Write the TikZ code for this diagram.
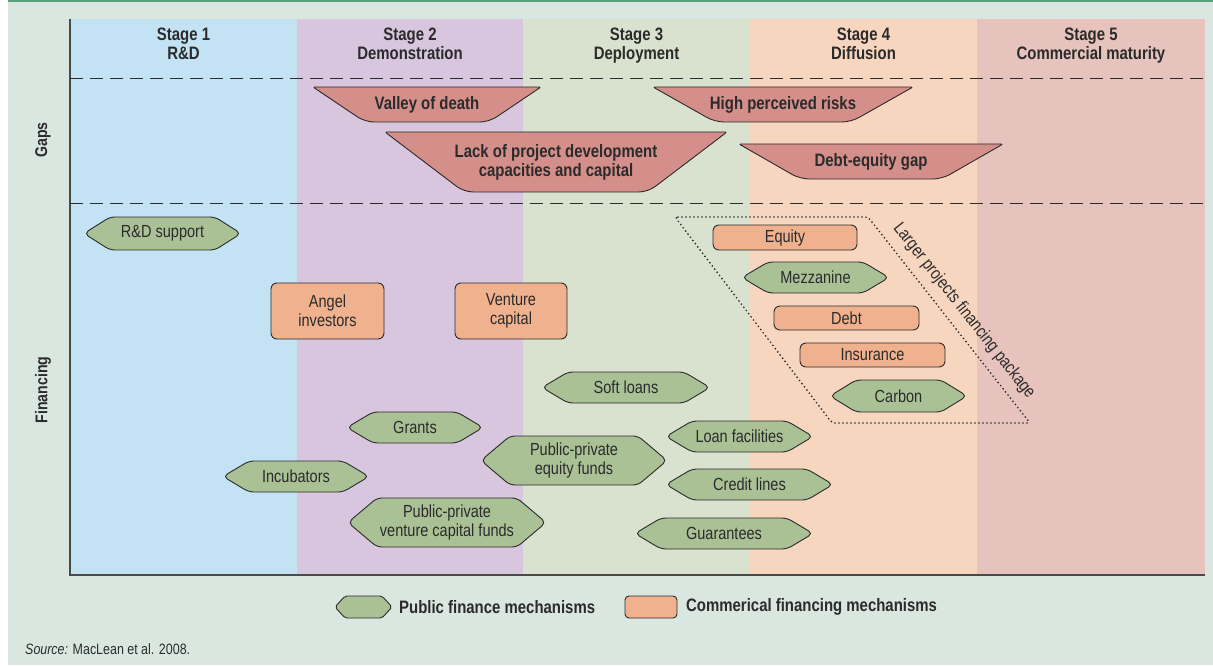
\documentclass[tikz,border=0pt]{standalone}
\usepackage{fontspec}
\setmainfont{Liberation Sans}[FakeStretch=0.83]

\definecolor{pagebg}{HTML}{D9E7E0}
\definecolor{rulegreen}{HTML}{5A9E7C}
\definecolor{colrd}{HTML}{C3E2F3}
\definecolor{coldemo}{HTML}{D8C6DF}
\definecolor{coldeploy}{HTML}{D9E2CF}
\definecolor{coldiff}{HTML}{F7D6BF}
\definecolor{colmature}{HTML}{E6C3BD}
\definecolor{gapred}{HTML}{D48F8B}
\definecolor{pubgreen}{HTML}{AAC196}
\definecolor{commorange}{HTML}{F0B18E}
\definecolor{inkgray}{HTML}{2B2B2B}
\definecolor{axisgray}{HTML}{4A4A4A}

\tikzset{
  lbl/.style={font=\fontsize{17.5}{19}\selectfont, text=inkgray, align=center, inner sep=0pt},
  headlbl/.style={font=\bfseries\fontsize{18}{19}\selectfont, text=inkgray, align=center, inner sep=0pt},
  stagelbl/.style={headlbl, anchor=north},
  hexline/.style={draw=inkgray, fill=pubgreen, line width=0.9pt, rounded corners=5pt, line join=round},
  gapline/.style={draw=inkgray, fill=gapred, line width=0.9pt, line join=round},
  commbox/.style={lbl, draw=inkgray, fill=commorange, line width=0.9pt, rounded corners=6pt},
  stageline/.style={draw=inkgray, line width=0.9pt, dash pattern=on 13pt off 7pt},
  pkgline/.style={draw=inkgray, line width=1.9pt, line cap=round, dash pattern=on 0pt off 4pt, rounded corners=3pt}
}

% public mechanism: [cut] name, centre, half width, half height, text
\newcommand{\pubhex}[6][26]{%
  \begin{scope}[shift={(#3)}]
    \draw[hexline] (-#4,0) -- (-#4+#1,-#5) -- (#4-#1,-#5) -- (#4,0) -- (#4-#1,#5) -- (-#4+#1,#5) -- cycle;
    \node[lbl] (#2) at (0,0) {#6};
  \end{scope}}

% gap: name, centre x, top y, bottom y, top half width, bottom half width, text
\newcommand{\gapbox}[7]{%
  \draw[gapline] (#2-#5,#3) [rounded corners=2pt] -- (#2+#5,#3) [rounded corners=9pt] -- (#2+#6,#4) -- (#2-#6,#4) [rounded corners=2pt] -- cycle;
  \node[headlbl] (#1) at (#2,{(#3+#4)/2}) {#7};}

\begin{document}
\begin{tikzpicture}[x=1pt, y=-1pt]
    \useasboundingbox (0,0) rectangle (1213,666);
    % background and top rule
    \fill[pagebg] (8,0) rectangle (1213,665);
    \draw[rulegreen, line width=2pt] (8,1) -- (1213,1);

    % stage columns
    \fill[colrd] (70,19) rectangle (297,575);
    \fill[coldemo] (297,19) rectangle (523,575);
    \fill[coldeploy] (523,19) rectangle (750,575);
    \fill[coldiff] (750,19) rectangle (977,575);
    \fill[colmature] (977,19) rectangle (1205,575);

    % axes
    \draw[axisgray, line width=1.2pt] (70,19) -- (70,575) -- (1205,575);

    % separators between header, gaps and financing
    \draw[stageline] (70,78) -- (1205,78);
    \draw[stageline] (70,203) -- (1205,203);

    % stage headers
    \node[stagelbl] (stage1) at (183.5,28) {Stage 1\\R\&D};
    \node[stagelbl] (stage2) at (410,28) {Stage 2\\Demonstration};
    \node[stagelbl] (stage3) at (636.5,28) {Stage 3\\Deployment};
    \node[stagelbl] (stage4) at (863.5,28) {Stage 4\\Diffusion};
    \node[stagelbl] (stage5) at (1091,28) {Stage 5\\Commercial maturity};

    % row labels
    \node[headlbl, font=\bfseries\fontsize{17}{19}\selectfont, rotate=90] (gapsrow) at (43,140) {Gaps};
    \node[headlbl, font=\bfseries\fontsize{17}{19}\selectfont, rotate=90] (finrow) at (43,390) {Financing};

    % gaps
    \gapbox{valley}{427}{87}{122}{114}{62}{Valley of death}
    \gapbox{lackcap}{556}{132}{192}{171}{92}{Lack of project development\\capacities and capital}
    \gapbox{risks}{783}{87}{122}{130}{68}{High perceived risks}
    \gapbox{debtgap}{871}{144}{179}{132}{71}{Debt-equity gap}

    % larger projects package
    \draw[pkgline] (675,217) -- (868,217) -- (1030,423) -- (832,423) -- cycle;
    \node[lbl, rotate=-51.7] (pkglbl) at (964,311) {Larger projects financing package};

    % commercial mechanisms
    \node[commbox, minimum width=113pt, minimum height=56pt] (angel) at (327.5,311) {Angel\\investors};
    \node[commbox, minimum width=112pt, minimum height=56pt] (venture) at (511,311) {Venture\\capital};
    \node[commbox, minimum width=144pt, minimum height=25pt] (equity) at (785,237.5) {Equity};
    \node[commbox, minimum width=145pt, minimum height=24pt] (debt) at (846.5,318) {Debt};
    \node[commbox, minimum width=145pt, minimum height=24pt] (insurance) at (872.5,355) {Insurance};

    % public mechanisms
    \pubhex{rdsupport}{162.5,233.5}{78.5}{16.5}{R\&D support}
    \pubhex{mezzanine}{815.5,277.5}{73.5}{15.5}{Mezzanine}
    \pubhex{carbon}{898.5,396}{68.5}{16}{Carbon}
    \pubhex{softloans}{626,387.5}{84}{15.5}{Soft loans}
    \pubhex{grants}{415,427.5}{68}{15.5}{Grants}
    \pubhex{incubators}{296,476.5}{73}{15.5}{Incubators}
    \pubhex[29]{ppvcfunds}{447,522.5}{99}{24.5}{Public-private\\venture capital funds}
    \pubhex[29]{ppeqfunds}{574,460.5}{93}{24.5}{Public-private\\equity funds}
    \pubhex{loanfac}{739.5,436.5}{73.5}{15.5}{Loan facilities}
    \pubhex{creditlines}{749.5,484.5}{83.5}{15.5}{Credit lines}
    \pubhex{guarantees}{724,533.5}{89}{15.5}{Guarantees}

    % legend
    \begin{scope}[hexline/.append style={rounded corners=2pt}]
      \pubhex[10]{keypub}{363.5,607}{28.5}{11}{}
    \end{scope}
    \node[headlbl, anchor=west] (keypubtxt) at (399,607) {Public finance mechanisms};
    \node[commbox, minimum width=52pt, minimum height=22pt, rounded corners=4pt] (keycomm) at (651,607) {};
    \node[headlbl, anchor=west] (keycommtxt) at (686,607) {Commerical financing mechanisms};

    % source
    \node[lbl, font=\fontsize{15}{17}\selectfont, text=inkgray, anchor=west] (source) at (25,649) {\itshape Source:\upshape{} MacLean et al. 2008.};
\end{tikzpicture}
\end{document}
